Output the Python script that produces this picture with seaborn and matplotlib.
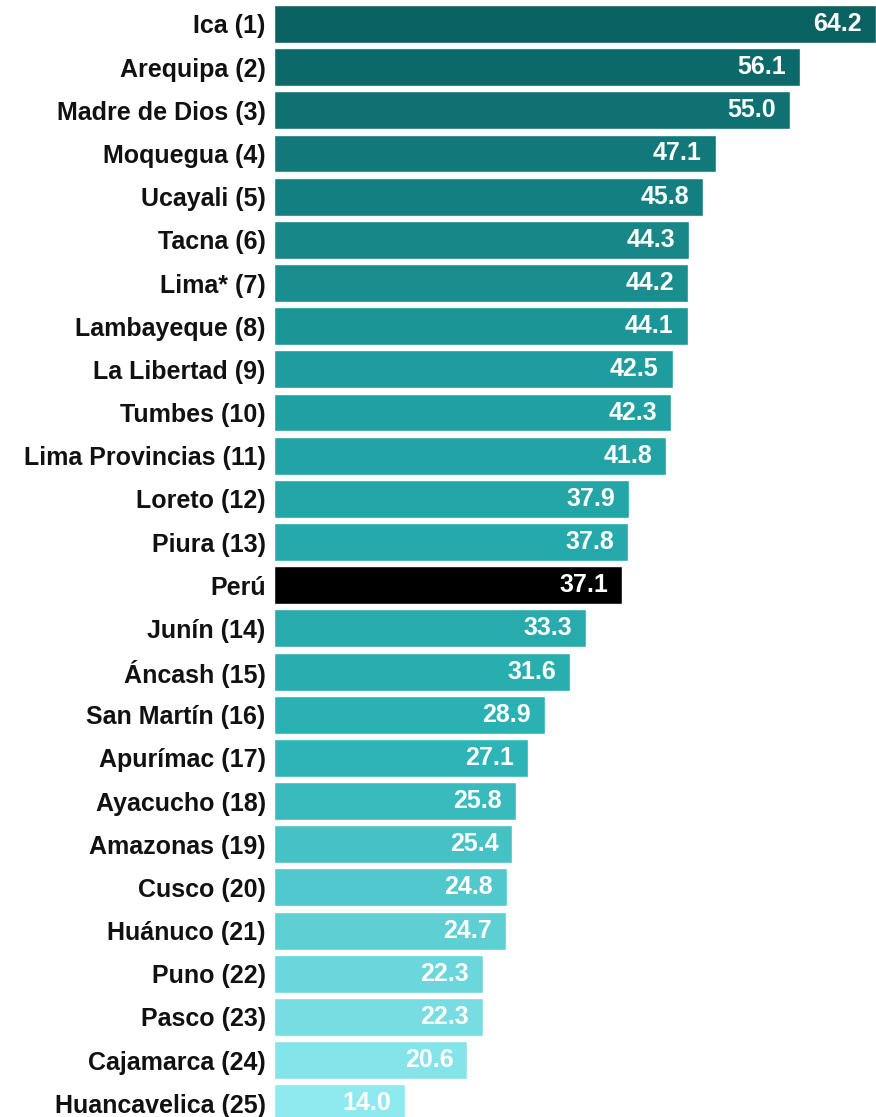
import numpy as np
import pandas as pd
import matplotlib
matplotlib.use("Agg")
import matplotlib.pyplot as plt
import seaborn as sns
from matplotlib.colors import LinearSegmentedColormap, to_hex

# datos
regiones = ["Ica (1)", "Arequipa (2)", "Madre de Dios (3)", "Moquegua (4)", "Ucayali (5)",
            "Tacna (6)", "Lima* (7)", "Lambayeque (8)", "La Libertad (9)", "Tumbes (10)",
            "Lima Provincias (11)", "Loreto (12)", "Piura (13)", "Perú", "Junín (14)",
            "Áncash (15)", "San Martín (16)", "Apurímac (17)", "Ayacucho (18)",
            "Amazonas (19)", "Cusco (20)", "Huánuco (21)", "Puno (22)", "Pasco (23)",
            "Cajamarca (24)", "Huancavelica (25)"]
valores = [64.2, 56.1, 55.0, 47.1, 45.8, 44.3, 44.2, 44.1, 42.5, 42.3,
           41.8, 37.9, 37.8, 37.1, 33.3, 31.6, 28.9, 27.1, 25.8,
           25.4, 24.8, 24.7, 22.3, 22.3, 20.6, 14.0]

df = pd.DataFrame({"region": regiones, "valor": valores})

# colores: degradado teal -> celeste, Perú en negro
cmap = LinearSegmentedColormap.from_list("teal", ["#0a6262", "#1f9d9e", "#2cb4b6", "#8feaf0"])
n_reg = len(df) - 1
colores = []
k = 0
for r in df["region"]:
    if r == "Perú":
        colores.append("#000000")
    else:
        colores.append(to_hex(cmap(k / (n_reg - 1))))
        k += 1

sns.set_style("white")
plt.rcParams["font.family"] = ["Liberation Sans", "DejaVu Sans"]

fig = plt.figure(figsize=(8.76, 11.17), dpi=100)
ax = fig.add_axes([274 / 876, 0, 1 - 274 / 876, 1 - 5 / 1117])

sns.barplot(data=df, x="valor", y="region", hue="region", palette=colores,
            legend=False, width=0.88, ax=ax, saturation=1)

ax.set_xlim(0, 64.2)
ax.set_ylim(25.32, -0.44)
for s in ax.spines.values():
    s.set_visible(False)
ax.set_xticks([])
ax.set_xlabel("")
ax.set_ylabel("")
ax.tick_params(axis="y", length=0, pad=6)
for t in ax.get_yticklabels():
    t.set_fontsize(18)
    t.set_fontweight("bold")
    t.set_color("#111111")

# etiquetas de valor
for i, v in enumerate(df["valor"]):
    ax.annotate(f"{v:.1f}", xy=(v, i), xytext=(-10, 0), textcoords="offset points",
                ha="right", va="center", color="white", fontsize=18, fontweight="bold")

fig.savefig("out.png", dpi=100)
